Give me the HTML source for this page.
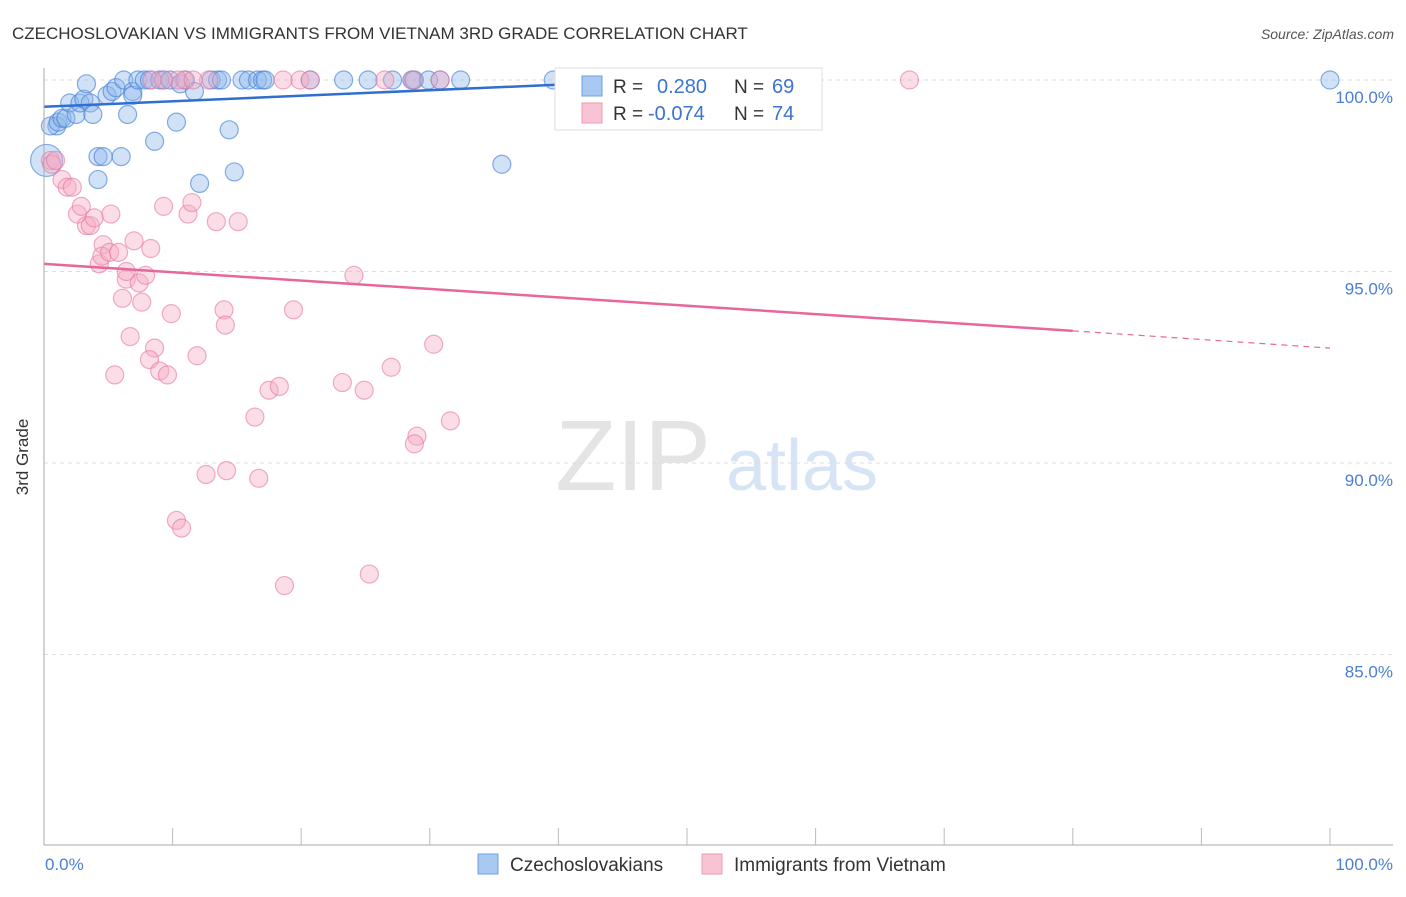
<!DOCTYPE html>
<html><head><meta charset="utf-8"><style>
body{margin:0;background:#fff;font-family:"Liberation Sans",sans-serif}
svg text{font-family:"Liberation Sans",sans-serif}
</style></head><body>
<svg id="c" width="1406" height="892" xmlns="http://www.w3.org/2000/svg">
<text x="12" y="39" font-size="17" fill="#333">CZECHOSLOVAKIAN VS IMMIGRANTS FROM VIETNAM 3RD GRADE CORRELATION CHART</text>
<text x="1394" y="39" font-size="14" fill="#555" text-anchor="end" font-style="italic">Source: ZipAtlas.com</text>
<text x="633" y="490" font-size="100" fill="#e4e4e4" font-family="Liberation Serif" text-anchor="middle">ZIP</text>
<text x="802" y="490" font-size="72" fill="#d6e4f5" text-anchor="middle">atlas</text>
<g id="grid"></g><g id="pts"></g><g id="trend"></g>
<line x1="44" y1="68" x2="44" y2="845" stroke="#aaa"/>
<line x1="44" y1="845" x2="1393" y2="845" stroke="#aaa"/>
<text x="28" y="457" font-size="17" fill="#333" text-anchor="middle" transform="rotate(-90 28 457)">3rd Grade</text>
<text x="45" y="870" font-size="17" fill="#4a7fd4">0.0%</text>
<text x="1393" y="870" font-size="17" fill="#4a7fd4" text-anchor="end">100.0%</text>
<g>
<rect x="555" y="68" width="267" height="62" fill="#fff" stroke="#ddd"/>
<rect x="582" y="76" width="20" height="20" fill="#a9c9f2" stroke="#6d9fe0"/>
<rect x="582" y="103" width="20" height="20" fill="#f8c3d3" stroke="#eb9ab5"/>
<text x="613" y="93" font-size="19" fill="#333">R = </text><text x="657" y="93" font-size="20" fill="#3b74d1">0.280</text>
<text x="734" y="93" font-size="19" fill="#333">N = </text><text x="772" y="93" font-size="20" fill="#3b74d1">69</text>
<text x="613" y="120" font-size="19" fill="#333">R = </text><text x="648" y="120" font-size="20" fill="#3b74d1">-0.074</text>
<text x="734" y="120" font-size="19" fill="#333">N = </text><text x="772" y="120" font-size="20" fill="#3b74d1">74</text>
</g>
<g>
<rect x="478" y="854" width="20" height="20" fill="#a9c9f2" stroke="#6d9fe0"/>
<text x="510" y="871" font-size="19" fill="#333">Czechoslovakians</text></g>
<g>
<rect x="702" y="854" width="20" height="20" fill="#f8c3d3" stroke="#eb9ab5"/>
<text x="734" y="871" font-size="19" fill="#333">Immigrants from Vietnam</text></g>
</svg>
<script>
const yTicks=[100,95,90,85];
const yTickLabels=["100.0%","95.0%","90.0%","85.0%"];
const xTicks=[0,10,20,30,40,50,60,70,80,90,100];
const blueX=[1.0,0.5,1.1,1.4,1.7,2.0,2.5,2.8,3.1,3.3,3.6,3.8,4.2,4.6,4.2,4.9,5.3,5.6,6.0,6.2,6.5,6.9,6.9,7.3,7.8,8.2,8.6,9.0,9.3,9.8,10.3,10.6,11.0,11.7,12.1,13.0,13.5,13.8,14.4,14.8,15.4,15.9,16.6,17.0,17.2,20.7,23.3,25.2,27.1,28.6,28.8,29.9,30.8,32.4,35.6,39.6,43.5,100,0.2];
const blueY=[98.8,98.8,98.9,99.0,99.0,99.4,99.1,99.4,99.5,99.9,99.4,99.1,98.0,98.0,97.4,99.6,99.7,99.8,98.0,100,99.1,99.7,99.6,100,100,100,98.4,100,100,100,98.9,99.9,100,99.7,97.3,100,100,100,98.7,97.6,100,100,100,100,100,100,100,100,100,100,100,100,100,100,97.8,100,100,100,97.9];
const pinkX=[0.5,0.6,0.9,1.4,1.8,2.2,2.6,2.9,3.3,3.6,3.9,4.6,5.2,4.3,4.5,5.1,5.8,6.1,6.4,6.4,7.0,7.4,7.6,7.9,8.3,6.7,5.5,8.6,8.2,9.0,9.6,9.9,9.3,11.2,11.5,13.4,15.1,11.9,14.0,14.1,19.4,24.1,16.4,17.5,18.3,23.2,24.9,27.0,30.3,31.6,29.0,28.8,12.6,14.2,16.7,10.3,10.7,18.7,25.3,10.9,12.8,18.6,19.9,20.7,26.5,28.7,30.8,67.3,10.4,11.6,9.3,8.4];
const pinkY=[97.9,97.8,97.9,97.4,97.2,97.2,96.5,96.7,96.2,96.2,96.4,95.7,96.5,95.2,95.4,95.5,95.5,94.3,94.8,95.0,95.8,94.7,94.2,94.9,95.6,93.3,92.3,93.0,92.7,92.4,92.3,93.9,96.7,96.5,96.8,96.3,96.3,92.8,94.0,93.6,94.0,94.9,91.2,91.9,92.0,92.1,91.9,92.5,93.1,91.1,90.7,90.5,89.7,89.8,89.6,88.5,88.3,86.8,87.1,100,100,100,100,100,100,100,100,100,100,100,100,100];
const blueTrend=[[0,99.3],[45,99.95]];
const pinkTrend=[[0,95.2],[80,93.45]];
const pinkTrendDash=[[80,93.45],[100,93.0]];
const NS="http://www.w3.org/2000/svg";
const sx=v=>44+v*12.86, sy=v=>80+(100-v)*38.3;
function mk(t,a,p){const e=document.createElementNS(NS,t);for(const k in a)e.setAttribute(k,a[k]);p.appendChild(e);return e;}
const grid=document.getElementById('grid'),pts=document.getElementById('pts'),tr=document.getElementById('trend');
yTicks.forEach((v,i)=>{
 const l=mk('line',{x1:44,x2:1393,y1:sy(v),y2:sy(v),stroke:'#ddd','stroke-dasharray':'4 4'},grid);
 
 
 const t=mk('text',{x:1393,y:sy(v)+23,'font-size':17,fill:'#4a7fd4','text-anchor':'end'},grid);
 t.textContent=yTickLabels[i];
 
 
});
xTicks.forEach(v=>{
 const l=mk('line',{x1:sx(v),x2:sx(v),y1:828,y2:845,stroke:'#bbb'},grid);
 
 
});
blueX.forEach((x,i)=>{
 const big=i===blueX.length-1;
 const c=mk('circle',{cx:sx(x),cy:sy(blueY[i]),r:big?16:9,fill:'rgba(140,182,236,0.4)',stroke:'rgba(70,130,215,0.65)','stroke-width':1.2},pts);
 
 
});
pinkX.forEach((x,i)=>{
 const c=mk('circle',{cx:sx(x),cy:sy(pinkY[i]),r:9,fill:'rgba(244,170,195,0.4)',stroke:'rgba(230,120,160,0.6)','stroke-width':1.2},pts);
 
 
});
const b=mk('line',{x1:sx(blueTrend[0][0]),y1:sy(blueTrend[0][1]),x2:sx(blueTrend[1][0]),y2:sy(blueTrend[1][1]),stroke:'#2f6fd0','stroke-width':2.5},tr);


const p=mk('line',{x1:sx(pinkTrend[0][0]),y1:sy(pinkTrend[0][1]),x2:sx(pinkTrend[1][0]),y2:sy(pinkTrend[1][1]),stroke:'#e8679a','stroke-width':2.5},tr);


const pd=mk('line',{x1:sx(pinkTrendDash[0][0]),y1:sy(pinkTrendDash[0][1]),x2:sx(pinkTrendDash[1][0]),y2:sy(pinkTrendDash[1][1]),stroke:'#e8679a','stroke-width':1.2,'stroke-dasharray':'6 5'},tr);


</script>
</body></html>
